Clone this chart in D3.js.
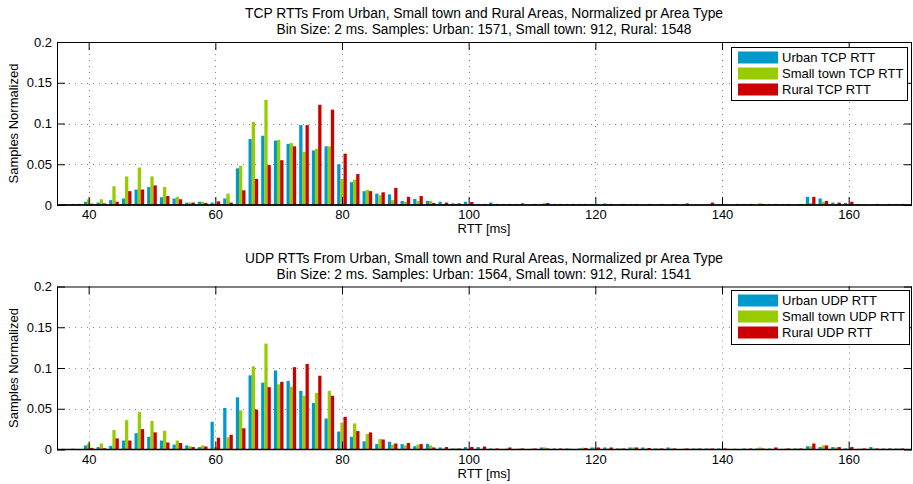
<!DOCTYPE html>
<html><head><meta charset="utf-8">
<script src="https://cdn.jsdelivr.net/npm/d3@7"></script>
<style>
body{margin:0;background:#fff}
svg{display:block}
text{font-family:"Liberation Sans",Arial,Helvetica,sans-serif;fill:#000}
</style>
</head><body>
<svg id="chart" width="913" height="484"></svg>
<script>
// ---- data ----
const binCenters = [36,38,40,42,44,46,48,50,52,54,
  56,58,60,62,64,66,68,70,72,74,
  76,78,80,82,84,86,88,90,92,94,
  96,98,100,102,104,106,108,110,112,114,
  116,118,120,122,124,126,128,130,132,134,
  136,138,140,142,144,146,148,150,152,154,
  156,158,160,162,164,166,168,170];
const xTicks = [40,60,80,100,120,140,160];
const yTicks = [0,0.05,0.1,0.15,0.2];
const yTickLabels = ["0","0.05","0.1","0.15","0.2"];

const tcpUrban = [0.0006,0.0013,0.004,0.003,0.006,0.008,0.019,0.022,0.0095,0.008,
  0.003,0.004,0.003,0.008,0.045,0.081,0.085,0.079,0.075,0.098,
  0.067,0.072,0.050,0.028,0.017,0.014,0.013,0.005,0.0074,0.005,
  0.004,0.002,0.004,0.0013,0.003,0.0013,0.0013,0,0.0013,0.0013,
  0.0013,0.0013,0.0013,0.0019,0,0.0013,0,0,0,0,
  0,0,0.0006,0.0006,0.0013,0,0.0013,0.0013,0,0.010,
  0.008,0.003,0.0025,0.0013,0,0,0.0013,0];
const tcpSmall = [0.0011,0.0011,0.007,0.007,0.023,0.035,0.046,0.035,0.022,0.010,
  0.003,0.004,0.0016,0.014,0.048,0.102,0.129,0.080,0.076,0.065,
  0.069,0.072,0.032,0.031,0.0185,0.012,0.006,0.004,0.005,0.005,
  0.0011,0.0016,0.0011,0,0,0,0.0011,0.0011,0.0025,0,
  0,0.0011,0,0.0011,0.0011,0,0,0.0011,0.0011,0.0011,
  0.0011,0.0011,0,0,0,0.0022,0,0,0.0011,0.0025,
  0.004,0.0011,0.0011,0.0011,0,0.0011,0,0];
const tcpRural = [0.0006,0.0013,0.0016,0.002,0.004,0.017,0.019,0.024,0.011,0.007,
  0.003,0.0025,0.0045,0.003,0.018,0.032,0.049,0.055,0.072,0.098,
  0.123,0.117,0.063,0.038,0.017,0.0156,0.021,0.010,0.011,0.0025,
  0.003,0.002,0.0037,0.0013,0.0013,0.0013,0.002,0.0013,0.0025,0.0013,
  0.0013,0.0013,0,0.0013,0.0013,0.0013,0.0013,0.0013,0.0013,0.0019,
  0,0.003,0,0.0013,0.0013,0.0013,0.0013,0.0013,0.0013,0.010,
  0.005,0.003,0.004,0.0006,0.0013,0.0013,0.0013,0];

const udpUrban = [0,0.001,0.005,0.003,0.0045,0.011,0.020,0.0156,0.011,0.006,
  0.005,0.003,0.034,0.051,0.064,0.091,0.082,0.097,0.084,0.072,
  0.057,0.038,0.022,0.0156,0.010,0.0066,0.0095,0.0066,0.004,0.007,
  0.0025,0.0013,0.003,0.003,0.0013,0,0,0,0.0025,0.0013,
  0.0013,0.0013,0.0025,0.0025,0.0013,0.0025,0.0025,0.0013,0.0025,0,
  0.0013,0.0013,0.0013,0,0.0013,0.0013,0.0013,0,0.0013,0.004,
  0.003,0.003,0.0013,0,0.003,0.0013,0.0013,0];
const udpSmall = [0.001,0,0.007,0.0074,0.024,0.036,0.046,0.035,0.023,0.011,
  0.004,0.005,0.003,0.015,0.048,0.102,0.130,0.080,0.077,0.066,
  0.0695,0.072,0.033,0.032,0.019,0.0128,0.006,0.005,0.006,0.005,
  0.0011,0.0011,0,0,0,0.0011,0.0011,0.0011,0.0025,0,
  0.0011,0.0022,0.0025,0.0011,0.0011,0.0025,0.0011,0.0011,0.0011,0.0011,
  0.0011,0.0011,0,0.0011,0,0.0025,0,0.0011,0.0011,0.004,
  0.005,0.0025,0,0.0011,0.0011,0,0.0011,0];
const udpRural = [0.0006,0.0006,0.002,0.0016,0.0136,0.011,0.025,0.021,0.0086,0.008,
  0.003,0.0037,0.0144,0.018,0.026,0.049,0.0765,0.083,0.101,0.105,
  0.0905,0.066,0.040,0.0226,0.021,0.0123,0.0074,0.008,0.0066,0.0025,
  0.003,0.0013,0.0033,0.0037,0.0013,0.0025,0.0013,0.0013,0.0013,0.0013,
  0.0006,0.0019,0.0025,0.0025,0.0013,0.0025,0.0019,0.0013,0.0013,0.0013,
  0.0013,0.0013,0.0013,0,0.0013,0.0013,0.0025,0.0013,0.0013,0.0074,
  0.005,0.003,0.003,0.0013,0.0013,0.0013,0.0013,0];

const seriesColors = ["#0099cc","#99cc00","#cc0000"];
const tcpNames = ["Urban TCP RTT","Small town TCP RTT","Rural TCP RTT"];
const udpNames = ["Urban UDP RTT","Small town UDP RTT","Rural UDP RTT"];
const tcpTitle = ["TCP RTTs From Urban, Small town and Rural Areas, Normalized pr Area Type",
  "Bin Size: 2 ms. Samples: Urban: 1571, Small town: 912, Rural: 1548"];
const udpTitle = ["UDP RTTs From Urban, Small town and Rural Areas, Normalized pr Area Type",
  "Bin Size: 2 ms. Samples: Urban: 1564, Small town: 912, Rural: 1541"];
const xLabel = "RTT [ms]";
const yLabel = "Samples Normalized";

// ---- drawing ----
const svg = d3.select("#chart");
const left = 57, right = 912;
const x = d3.scaleLinear().domain([35,170]).range([left,right]);
const barOffsets = [-0.5, 0, 0.5];
const barW = x(0.52) - x(0);

function panel(id, top, bottom, titles, names, series, titleY, legendBox) {
  const y = d3.scaleLinear().domain([0,0.2]).range([bottom, top]);
  const g = svg.append("g");

  // titles
  g.append("text").attr("x", 484).attr("y", titleY).attr("text-anchor","middle")
    .attr("font-size", 14).attr("textLength", 478).attr("lengthAdjust","spacingAndGlyphs").text(titles[0]);
  g.append("text").attr("x", 484).attr("y", titleY + 16).attr("text-anchor","middle")
    .attr("font-size", 14).attr("textLength", 415).attr("lengthAdjust","spacingAndGlyphs").text(titles[1]);

  // grid
  const grid = g.append("g").attr("stroke","#666").attr("stroke-width",0.8).attr("stroke-dasharray","1,5");
  grid.selectAll("line.v").data(xTicks).join("line").attr("class","v")
    .attr("x1", d => Math.round(x(d)) + 0.5).attr("x2", d => Math.round(x(d)) + 0.5)
    .attr("y1", top).attr("y2", bottom);
  grid.selectAll("line.h").data(yTicks.filter(d => d > 0 && d < 0.2)).join("line").attr("class","h")
    .attr("y1", d => Math.round(y(d)) + 0.5).attr("y2", d => Math.round(y(d)) + 0.5)
    .attr("x1", left).attr("x2", right);

  // bars
  g.append("clipPath").attr("id", "clip" + id).append("rect")
    .attr("x", left).attr("y", top).attr("width", right - left).attr("height", bottom - top);
  const bars = g.append("g").attr("clip-path", `url(#clip${id})`);
  series.forEach((vals, si) => {
    bars.append("g").attr("fill", seriesColors[si])
      .selectAll("rect").data(vals.map((v, i) => ({c: binCenters[i], v})))
      .join("rect")
      .attr("x", d => x(d.c + barOffsets[si]) - barW / 2)
      .attr("width", barW)
      .attr("y", d => y(d.v))
      .attr("height", d => Math.max(0, y(0) - y(d.v)));
  });

  // axes (inward ticks)
  const axB = g.append("g").attr("transform", `translate(0,${bottom})`)
    .call(d3.axisBottom(x).tickValues(xTicks).tickSize(-8).tickPadding(5).tickFormat(d3.format("d")));
  const axT = g.append("g").attr("transform", `translate(0,${top})`)
    .call(d3.axisTop(x).tickValues(xTicks).tickSize(-8).tickFormat(""));
  const axL = g.append("g").attr("transform", `translate(${left},0)`)
    .call(d3.axisLeft(y).tickValues(yTicks).tickSize(-8).tickPadding(5).tickFormat((d, i) => yTickLabels[i]));
  const axR = g.append("g").attr("transform", `translate(${right},0)`)
    .call(d3.axisRight(y).tickValues(yTicks).tickSize(-8).tickFormat(""));
  [axB, axT, axL, axR].forEach(a => {
    a.select(".domain").remove();
    a.selectAll("text").attr("font-size", 13).attr("font-family", '"Liberation Sans",Arial,sans-serif').attr("fill","#000");
    a.selectAll("line").attr("stroke", "#000");
  });

  // box
  g.append("rect").attr("x", left + 0.5).attr("y", top + 0.5)
    .attr("width", right - left - 1).attr("height", bottom - top - 0.5)
    .attr("fill","none").attr("stroke","#000").attr("stroke-width",1);
  g.append("line").attr("x1", left).attr("x2", right).attr("y1", y(0)).attr("y2", y(0))
    .attr("stroke","#000").attr("stroke-width",1.5);

  // axis labels
  g.append("text").attr("x", 484).attr("y", bottom + 28).attr("text-anchor","middle")
    .attr("font-size", 13).text(xLabel);
  g.append("text").attr("transform", `translate(18,${(top + bottom) / 2}) rotate(-90)`)
    .attr("text-anchor","middle").attr("font-size", 13).text(yLabel);

  // legend
  const lg = g.append("g");
  lg.append("rect").attr("x", legendBox.x + 0.5).attr("y", legendBox.y + 0.5)
    .attr("width", legendBox.w).attr("height", legendBox.h)
    .attr("fill","#fff").attr("stroke","#000").attr("stroke-width",1);
  names.forEach((n, i) => {
    const cy = legendBox.y + 10.5 + i * 16;
    lg.append("rect").attr("x", legendBox.x + 7).attr("y", cy - 6).attr("width", 40).attr("height", 12)
      .attr("fill", seriesColors[i]);
    lg.append("text").attr("x", legendBox.x + 51).attr("y", cy + 4.5).attr("font-size", 13).text(n);
  });
}

panel("tcp", 42, 205, tcpTitle, tcpNames, [tcpUrban, tcpSmall, tcpRural], 18, {x: 731, y: 47, w: 176, h: 53});
panel("udp", 286.5, 449.5, udpTitle, udpNames, [udpUrban, udpSmall, udpRural], 263, {x: 731, y: 290, w: 178, h: 54});
</script>
</body></html>
